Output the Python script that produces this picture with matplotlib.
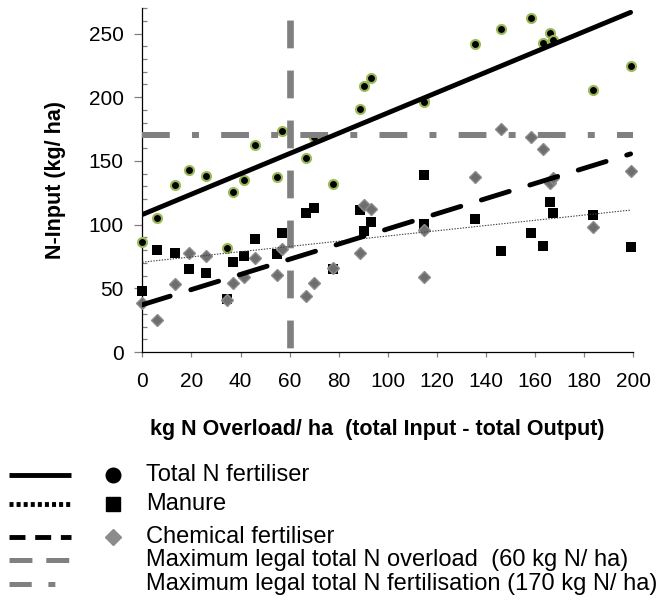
import numpy as np
import matplotlib
matplotlib.use("Agg")
import matplotlib.pyplot as plt

plt.rcParams["font.family"] = ["Liberation Sans", "DejaVu Sans"]
plt.rcParams["lines.scale_dashes"] = False

# farm data: N overload (x) and N inputs (kg/ha)
overload = [0, 6, 13.2, 19, 26, 34.4, 36.8, 41.4, 46.1, 54.7, 57, 66.8, 70, 77.5,
            88.5, 90.4, 93.0, 114.9, 114.9, 135.6, 146.2, 158.2, 163.3, 166, 167.4,
            183.5, 198.9]
total_n = [86, 105, 131, 143, 138, 82, 125.5, 135, 162.5, 137.6, 173.7, 152, 168.5,
           131.8, 190.5, 209, 215, 197, 196, 241.7, 253.7, 262, 242.7, 250.3, 245,
           205.7, 224.3]
manure = [48, 80, 77.6, 65, 62, 41.4, 70.5, 75.5, 89, 77, 93.3, 108.8, 112.7, 65.3,
          111.4, 95, 102.2, 138.7, 100.4, 104.6, 79.4, 93.6, 83.3, 118, 108.8, 107.7,
          82.3]
chemical = [38.3, 25.5, 53.2, 77.4, 75.2, 40.6, 54.2, 59, 74, 60.3, 80.5, 44, 54.5,
            66, 78.1, 115.3, 112.2, 59, 95.7, 137.3, 174.8, 168.8, 159.1, 132.9, 136.3,
            98, 142.3]

MAX_OVERLOAD = 60     # kg N/ha
MAX_FERTILISATION = 170

legend_labels = [
    "Total N fertiliser",
    "Manure",
    "Chemical fertiliser",
    "Maximum legal total N overload  (60 kg N/ ha)",
    "Maximum legal total N fertilisation (170 kg N/ ha)",
]

GREEN = "#9bbb59"
GREY = "#808080"

fig = plt.figure(figsize=(6.66, 6.0), dpi=100)
ax = fig.add_axes([0.2137, 0.4133, 0.7372, 0.5733])

x = np.array(overload)

# scatter series
ax.plot(x, total_n, "o", ms=6.5, mfc="black", mec=GREEN, mew=1.5, clip_on=False, zorder=3)
ax.plot(x, manure, "s", ms=6.6, mfc="black", mec="black", mew=0, clip_on=False, zorder=3)

# legal limits
ax.axvline(MAX_OVERLOAD, color=GREY, lw=4.8, linestyle=(33, (20, 16)), zorder=4)
ax.axhline(MAX_FERTILISATION, color=GREY, lw=4.3, linestyle=(0, (20, 16, 5, 16)), zorder=4)

ax.plot(x, chemical, "D", ms=6.0, mfc="#6e6e6e", mec="#8c8c8c", mew=1.0, clip_on=False, zorder=5)

# linear trend lines
xs = np.array([x.min(), x.max()])
fit_t = np.polyfit(x, total_n, 1)
fit_m = np.polyfit(x, manure, 1)
fit_c = np.polyfit(x, chemical, 1)
ax.plot(xs, np.polyval(fit_t, xs), color="black", lw=3.5, solid_capstyle="round", zorder=6)
ax.plot(xs, np.polyval(fit_m, xs), color="#444444", lw=0.8, linestyle=(0, (1, 1)), zorder=6)
ax.plot(xs, np.polyval(fit_c, xs), color="black", lw=3.5, linestyle=(0, (21, 15.5)),
        dash_capstyle="round", zorder=6)

ax.set_xlim(0, 200)
ax.set_ylim(0, 270)
ax.set_xticks(np.arange(0, 201, 20))
ax.set_yticks(np.arange(0, 251, 50))
ax.set_yticks(np.arange(0, 271, 10), minor=True)
ax.spines["top"].set_visible(False)
ax.spines["right"].set_visible(False)
for s in ("left", "bottom"):
    ax.spines[s].set_linewidth(0.9)
ax.tick_params(axis="both", which="major", labelsize=15, color=GREY, width=0.9)
ax.tick_params(axis="y", which="major", direction="out", length=5.5, pad=8)
ax.tick_params(axis="y", which="minor", direction="in", length=3.4, color=GREY, width=0.9)
ax.tick_params(axis="x", which="major", direction="out", length=3.4, pad=11)

ax.set_ylabel("N-Input (kg/ ha)", fontsize=15.5, fontweight="bold")
ax.yaxis.set_label_coords(-0.155, 0.5)
ax.set_xlabel("kg N Overload/ ha  (total Input - total Output)", fontsize=15.5, fontweight="bold")
ax.xaxis.set_label_coords(0.478, -0.195)

# hand-built legend below the chart (pixel layout)
lax = fig.add_axes([0, 0, 1, 0.25])
lax.set_xlim(0, 666)
lax.set_ylim(600, 450)
lax.axis("off")
rows = [475, 504, 537, 560, 584]
line_styles = [
    dict(color="black", lw=3.5, linestyle="-"),
    dict(color="black", lw=3.5, linestyle=(0, (2.9, 2.2))),
    dict(color="black", lw=3.5, linestyle=(0, (11.5, 7))),
    dict(color=GREY, lw=3.6, linestyle=(0, (16.5, 10))),
    dict(color=GREY, lw=3.6, linestyle=(0, (16, 12, 5, 12))),
]
markers = [
    dict(marker="o", ms=10.5, mfc="black", mec="black"),
    dict(marker="s", ms=10.5, mfc="black", mec="black"),
    dict(marker="D", ms=8.5, mfc="#8c8c8c", mec="#8c8c8c"),
    None,
    None,
]
for y, label, ls, mk in zip(rows, legend_labels, line_styles, markers):
    lax.plot([9, 71], [y, y], solid_capstyle="butt", dash_capstyle="butt", **ls)
    if mk:
        lax.plot([113], [y], linestyle="none", **mk)
    lax.text(146, y, label, fontsize=17, va="center", ha="left")

fig.savefig("out.png", dpi=100)
